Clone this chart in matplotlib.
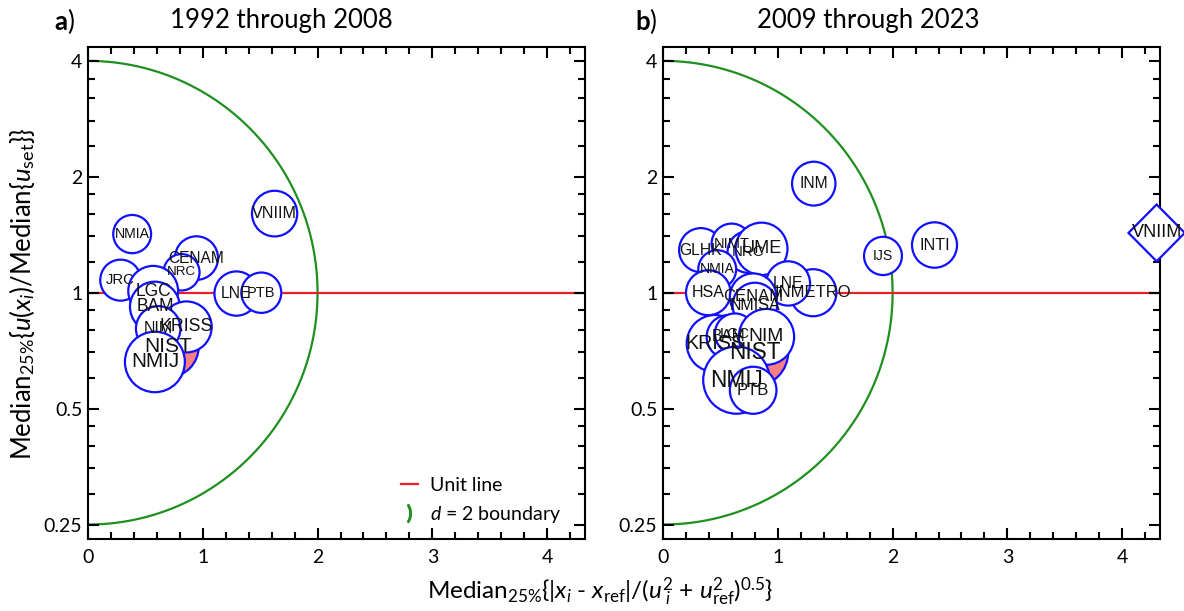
import numpy as np
import matplotlib
matplotlib.use('Agg')
import matplotlib.pyplot as plt
from matplotlib.patches import Circle, RegularPolygon
from matplotlib.lines import Line2D

plt.rcParams['font.family'] = ['Lato', 'DejaVu Sans']
plt.rcParams['mathtext.fontset'] = 'custom'
plt.rcParams['mathtext.rm'] = 'Lato'
plt.rcParams['mathtext.it'] = 'Lato:italic'
plt.rcParams['mathtext.bf'] = 'Lato:bold'

# panel a: 1992 through 2008  (x = median |d|, y = median u ratio, r = circle radius)
labs_a = ['NIST', 'VNIIM', 'NMIA', 'CENAM', 'NRC', 'JRC', 'LGC', 'BAM', 'LNE', 'PTB',
          'KRISS', 'NIM', 'NMIJ']
x_a = [0.70, 1.626, 0.385, 0.945, 0.815, 0.284, 0.568, 0.583, 1.293, 1.51, 0.858, 0.612, 0.583]
y_a = [0.725, 1.605, 1.42, 1.23, 1.13, 1.078, 1.01, 0.919, 0.995, 1.0, 0.815, 0.807, 0.661]
r_a = [0.265, 0.197, 0.165, 0.188, 0.157, 0.177, 0.217, 0.217, 0.191, 0.174, 0.22, 0.194, 0.261]

# panel b: 2009 through 2023
labs_b = ['NIST', 'INM', 'IJS', 'INTI', 'GLHK', 'NIMT', 'NRC', 'UME', 'NMIA', 'HSA',
          'INMETRO', 'LNE', 'CENAM', 'NMISA', 'KRISS', 'BAM', 'LGC', 'NIM', 'NMIJ', 'PTB']
x_b = [0.80, 1.313, 1.916, 2.365, 0.33, 0.597, 0.742, 0.858, 0.472, 0.394,
       1.307, 1.09, 0.785, 0.80, 0.452, 0.568, 0.626, 0.901, 0.64, 0.785]
y_b = [0.70, 1.92, 1.246, 1.33, 1.29, 1.34, 1.276, 1.30, 1.15, 1.0,
       1.0, 1.057, 0.975, 0.928, 0.738, 0.768, 0.783, 0.768, 0.593, 0.558]
r_b = [0.29, 0.189, 0.165, 0.196, 0.19, 0.174, 0.18, 0.226, 0.165, 0.194,
       0.203, 0.191, 0.203, 0.194, 0.246, 0.188, 0.174, 0.241, 0.29, 0.203]

# off-scale point in panel b (drawn as a diamond at the edge)
off_lab = 'VNIIM'
off_x = 4.30
off_y = 1.43
off_r = 0.245

host = 'NIST'

y_major = [0.25, 0.5, 1, 2, 4]
y_minor = [0.3, 0.35, 0.4, 0.45, 0.6, 0.7, 0.8, 0.9, 1.2, 1.4, 1.6, 1.8, 2.4, 2.8, 3.2, 3.6]

blue = '#1010ff'
green = '#1f8f1f'
red = '#e8202a'
pink = '#f88080'


def label_size(r):
    return min(50 * r + 1.8, 16.5)


def panel(ax, labs, xs, ys, rs):
    th = np.linspace(-np.pi / 2, np.pi / 2, 400)
    ax.plot(2 * np.cos(th), 2 * np.sin(th), color=green, lw=1.6, zorder=1)
    ax.plot([0, 4.4], [0, 0], color=red, lw=1.6, zorder=1)
    for k, (lab, x, y, r) in enumerate(zip(labs, xs, ys, rs)):
        fc = pink if lab == host else 'white'
        ax.add_patch(Circle((x, np.log2(y)), r, facecolor=fc, edgecolor=blue,
                            lw=1.6, zorder=2 + k))
    for lab, x, y, r in zip(labs, xs, ys, rs):
        ax.text(x, np.log2(y), lab, ha='center', va='center', fontsize=label_size(r),
                family=['Liberation Sans'], color='#111111', zorder=100)

    ax.set_xlim(0, 4.33)
    ax.set_ylim(-2.125, 2.12)
    ax.set_xticks([0, 1, 2, 3, 4])
    ax.set_xticks(np.arange(0.2, 4.3, 0.2), minor=True)
    ax.set_yticks(np.log2(y_major))
    ax.set_yticklabels([f'{v:g}' for v in y_major])
    ax.set_yticks(np.log2(y_minor), minor=True)
    ax.tick_params(which='both', direction='in', top=True, right=True,
                   labelsize=14, width=1.5)
    ax.tick_params(which='major', length=8)
    ax.tick_params(which='minor', length=5)
    ax.tick_params(axis='x', pad=7)
    ax.tick_params(axis='y', pad=4)
    for s in ax.spines.values():
        s.set_linewidth(1.5)


fig = plt.figure(figsize=(11.84, 6.11), dpi=100)
ax1 = fig.add_axes([0.0743, 0.1178, 0.4198, 0.8053])
ax2 = fig.add_axes([0.5600, 0.1178, 0.4198, 0.8053])

panel(ax1, labs_a, x_a, y_a, r_a)
panel(ax2, labs_b, x_b, y_b, r_b)

ax2.add_patch(RegularPolygon((off_x, np.log2(off_y)), numVertices=4, radius=off_r,
                             orientation=0, facecolor='white', edgecolor=blue, lw=1.6,
                             zorder=50, clip_on=False))
ax2.text(off_x, np.log2(off_y), off_lab, ha='center', va='center',
         fontsize=label_size(off_r) - 1, family=['Liberation Sans'], color='#111111',
         zorder=101, clip_on=False)

handles = [Line2D([], [], color=red, lw=1.6),
           Line2D([], [], color=green, marker='$)$', ls='none', markersize=13)]
ax1.legend(handles, ['Unit line', '$d$ = 2 boundary'], loc='lower right',
           bbox_to_anchor=(0.975, 0.005), frameon=False, fontsize=14,
           handlelength=0.9, handletextpad=0.6, borderaxespad=0.2, labelspacing=0.5)

fig.text(0.238, 0.966, '1992 through 2008', ha='center', va='center', fontsize=18.5)
fig.text(0.733, 0.966, '2009 through 2023', ha='center', va='center', fontsize=18.5)
fig.text(0.046, 0.966, r'$\mathbf{a}$)', ha='left', va='center', fontsize=18.5)
fig.text(0.536, 0.966, r'$\mathbf{b}$)', ha='left', va='center', fontsize=18.5)

fig.text(0.507, 0.03,
         r'Median$_{25\%}${|$x_i$ - $x_{\mathrm{ref}}$|/($u^2_{\ i}$ + $u^2_{\mathrm{ref}}$)$^{0.5}$}',
         ha='center', va='center', fontsize=17.5)
fig.text(0.019, 0.52,
         r'Median$_{25\%}${$u$($x_i$)/Median{$u_{\mathrm{set}}$}}',
         ha='center', va='center', rotation=90, fontsize=18.5)

fig.savefig('out.png', dpi=100)
